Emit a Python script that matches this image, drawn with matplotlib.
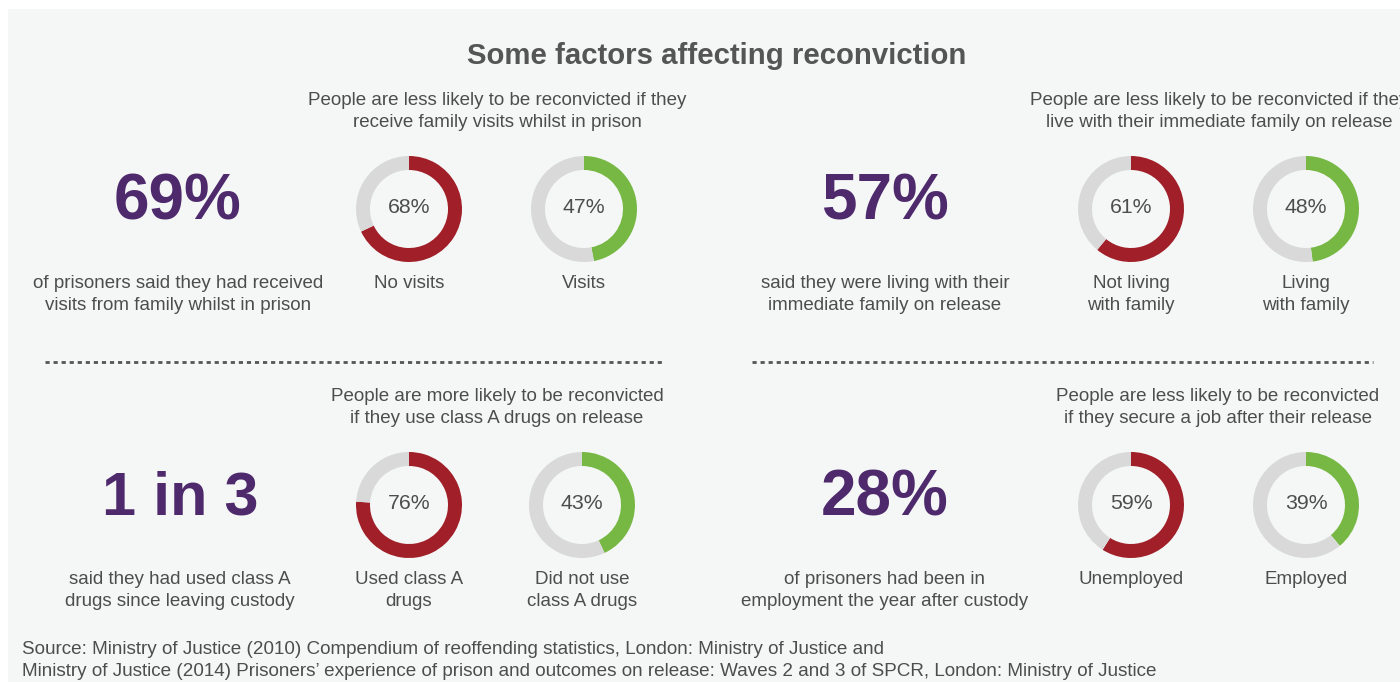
import matplotlib
matplotlib.use("Agg")
import matplotlib.pyplot as plt
from matplotlib.patches import Rectangle

plt.rcParams['font.family'] = ['Liberation Sans', 'DejaVu Sans']

W, H = 1400, 682
DPI = 100

title = "Some factors affecting reconviction"

# headline figures for each panel
headline_values = ["69%", "57%", "1 in 3", "28%"]
headline_captions = [
    "of prisoners said they had received\nvisits from family whilst in prison",
    "said they were living with their\nimmediate family on release",
    "said they had used class A\ndrugs since leaving custody",
    "of prisoners had been in\nemployment the year after custody",
]
panel_headers = [
    "People are less likely to be reconvicted if they\nreceive family visits whilst in prison",
    "People are less likely to be reconvicted if they\nlive with their immediate family on release",
    "People are more likely to be reconvicted\nif they use class A drugs on release",
    "People are less likely to be reconvicted\nif they secure a job after their release",
]
# reconviction rates (%) for the two groups in each panel
reconviction_high = [68, 61, 76, 59]
reconviction_low = [47, 48, 43, 39]
labels_high = ["No visits", "Not living\nwith family", "Used class A\ndrugs", "Unemployed"]
labels_low = ["Visits", "Living\nwith family", "Did not use\nclass A drugs", "Employed"]

source_lines = [
    "Source: Ministry of Justice (2010) Compendium of reoffending statistics, London: Ministry of Justice and",
    "Ministry of Justice (2014) Prisoners\u2019 experience of prison and outcomes on release: Waves 2 and 3 of SPCR, London: Ministry of Justice",
]

RED = "#a01f28"
GREEN = "#76b843"
GREY = "#d9d9d9"
TEXT = "#4d4d4d"
PURPLE = "#4e2a6c"
PANEL = "#f5f7f7"

fig = plt.figure(figsize=(W / DPI, H / DPI), dpi=DPI, facecolor="white")
ax = fig.add_axes([0, 0, 1, 1])
ax.set_xlim(0, W)
ax.set_ylim(H, 0)
ax.axis("off")

ax.add_patch(Rectangle((8, 9), W, H, facecolor=PANEL, edgecolor="none", zorder=0))

ax.text(717, 56, title, ha="center", va="center", fontsize=21.2,
        fontweight="bold", color="#555555")


def px(v):
    return v * 0.72


BODY = px(18.8)


def lines(x, y, text, step=22, size=BODY, ha="center"):
    for k, line in enumerate(text.split("\n")):
        ax.text(x, y + 1.8 + step * k, line, ha=ha, va="center",
                fontsize=size, color=TEXT)


def donut(cx, cy, value, color, r=53, ring=14):
    sub = fig.add_axes([(cx - r) / W, 1 - (cy + r) / H, 2 * r / W, 2 * r / H])
    sub.pie([value, 100 - value], colors=[color, GREY], startangle=90,
            counterclock=False, radius=1,
            wedgeprops=dict(width=ring / r, edgecolor="none", linewidth=0))
    sub.set_xlim(-1, 1)
    sub.set_ylim(-1, 1)
    sub.set_aspect("equal")
    sub.axis("off")
    sub.patch.set_alpha(0)
    ax.text(cx, cy - 1.5, f"{value}%", ha="center", va="center",
            fontsize=px(21.3), color=TEXT)


# panel geometry: (headline x, header x, donut 1 x, donut 2 x, top y)
panels = [
    (178, 497, 409, 584, 0),
    (885, 1219, 1131, 1306, 0),
    (180, 497, 409, 582, 296),
    (885, 1218, 1131, 1306, 296),
]

for i, (hx, hdx, d1, d2, dy) in enumerate(panels):
    ax.text(hx, 203 + dy, headline_values[i], ha="center", va="center",
            fontsize=46 if i != 2 else 44, fontweight="bold", color=PURPLE)
    lines(hx, 282 + dy, headline_captions[i])
    lines(hdx, 99 + dy, panel_headers[i], step=21.5)
    donut(d1, 209 + dy, reconviction_high[i], RED)
    donut(d2, 209 + dy, reconviction_low[i], GREEN)
    lines(d1, 282 + dy, labels_high[i])
    lines(d2, 282 + dy, labels_low[i])

for x0, x1 in ((45, 665), (752, 1373)):
    ax.plot([x0, x1], [362, 362], color="#555555", linewidth=2,
            linestyle=(0, (1.5, 1.4)), solid_capstyle="butt")

for j, line in enumerate(source_lines):
    ax.text(22, 650 + 22 * j, line, ha="left", va="center",
            fontsize=px(18.9), color=TEXT)

fig.savefig("out.png", dpi=DPI, facecolor="white")
